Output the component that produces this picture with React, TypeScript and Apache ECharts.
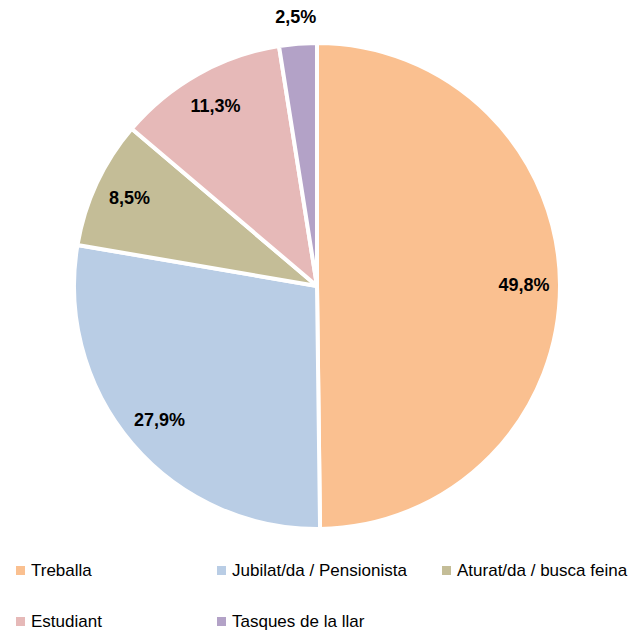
import React, { useEffect, useRef } from "react";
import * as echarts from "echarts";

const categories = [
  "Treballa",
  "Jubilat/da / Pensionista",
  "Aturat/da / busca feina",
  "Estudiant",
  "Tasques de la llar",
];
const values = [49.8, 27.9, 8.5, 11.3, 2.5];
const colors = ["#FAC090", "#B9CDE5", "#C4BD97", "#E6B9B8", "#B3A2C7"];
const outsideLabel = ["Tasques de la llar"];

const fmt = (v: number) => v.toFixed(1).replace(".", ",") + "%";

export default function App() {
  const ref = useRef<HTMLDivElement>(null);
  useEffect(() => {
    if (!ref.current) return;
    const chart = echarts.init(ref.current, null, { renderer: "svg" });
    const center = [317, 286];
    const R = 243;
    const base = categories.map((name, i) => ({
      name,
      value: values[i],
      itemStyle: { color: colors[i] },
    }));
    const labelStyle = {
      fontFamily: "Liberation Sans, Arial, sans-serif",
      fontWeight: "bold" as const,
      fontSize: 18,
      color: "#000",
    };
    const legendText = {
      fontFamily: "Liberation Sans, Arial, sans-serif",
      fontSize: 17,
      color: "#000",
    };
    const legendPos = [
      { left: 12, top: 560 },
      { left: 213, top: 560 },
      { left: 438, top: 560 },
      { left: 12, top: 611 },
      { left: 213, top: 611 },
    ];
    const legends = categories.map((name, i) => ({
      orient: "horizontal",
      left: legendPos[i].left,
      top: legendPos[i].top,
      padding: [2, 2, 0, 2],
      itemWidth: 11,
      itemHeight: 11,
      icon: "rect",
      textStyle: legendText,
      selectedMode: false,
      data: [name],
    }));
    chart.setOption({
      animation: false,
      legend: legends,
      series: [
        {
          type: "pie",
          center,
          radius: [0, R],
          startAngle: 90,
          clockwise: true,
          silent: true,
          label: { show: false },
          labelLine: { show: false },
          itemStyle: { borderColor: "#fff", borderWidth: 4 },
          data: base,
        },
        {
          type: "pie",
          center,
          radius: [165, R],
          startAngle: 90,
          clockwise: true,
          silent: true,
          legendHoverLink: false,
          label: {
            show: true,
            position: "inside",
            formatter: (p: any) => fmt(p.value),
            ...labelStyle,
          },
          labelLine: { show: false },
          data: base.map((d) => ({
            name: d.name + " ",
            value: d.value,
            itemStyle: { color: "transparent" },
            label: { show: !outsideLabel.includes(d.name) },
          })),
        },
        {
          type: "pie",
          center,
          radius: [R, 290],
          startAngle: 90,
          clockwise: true,
          silent: true,
          legendHoverLink: false,
          label: {
            show: true,
            position: "inside",
            formatter: (p: any) => fmt(p.value),
            ...labelStyle,
          },
          labelLine: { show: false },
          data: base.map((d) => ({
            name: d.name + "  ",
            value: d.value,
            itemStyle: { color: "transparent" },
            label: { show: outsideLabel.includes(d.name) },
          })),
        },
      ],
    });
    return () => chart.dispose();
  }, []);
  return (
    <div
      ref={ref}
      style={{ position: "fixed", left: 0, top: 0, width: 630, height: 633, background: "#fff" }}
    />
  );
}
